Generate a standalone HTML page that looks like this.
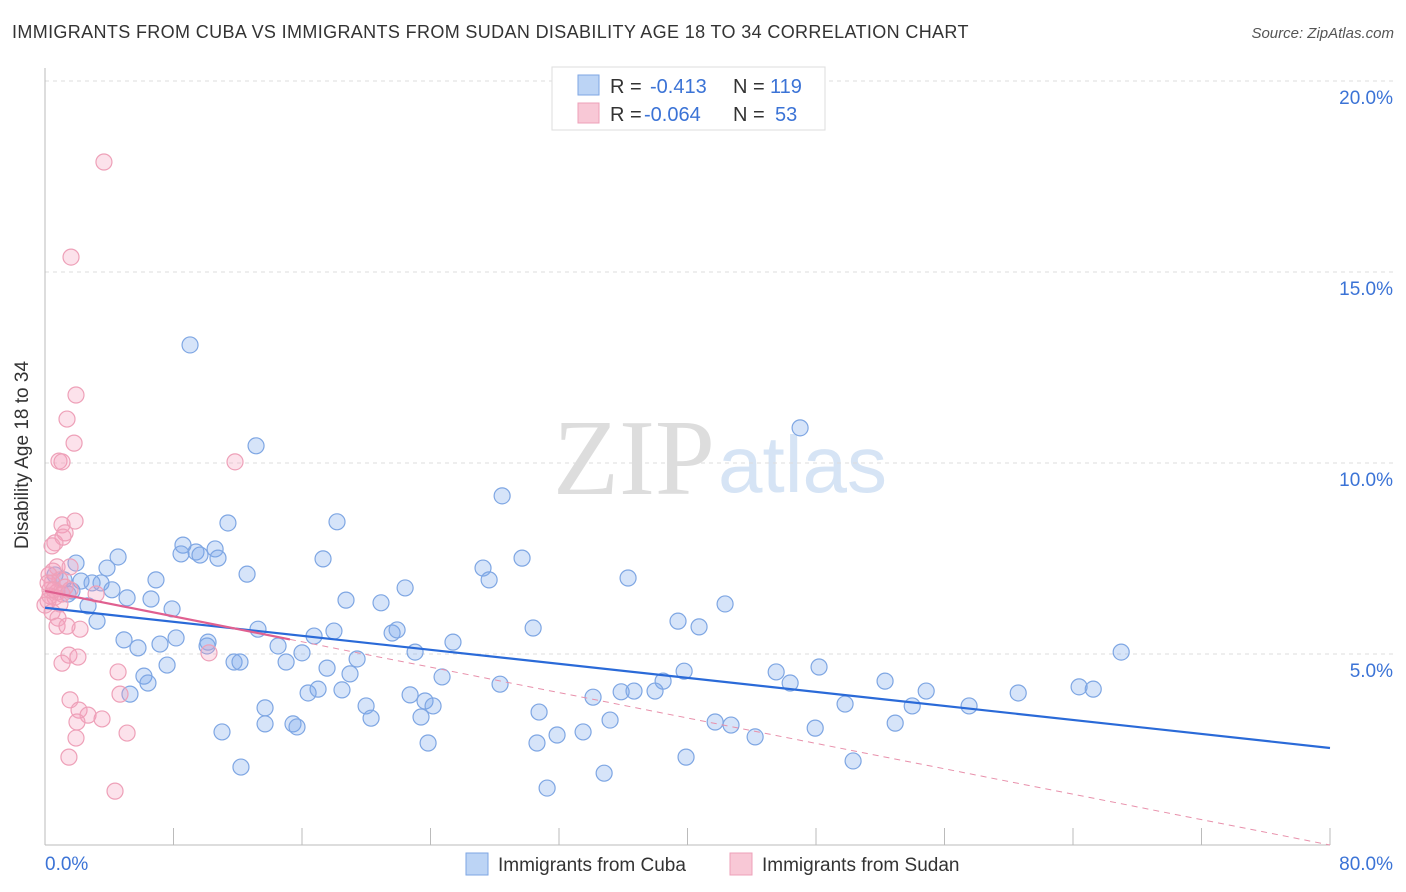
<!DOCTYPE html>
<html><head><meta charset="utf-8"><style>
body{margin:0;width:1406px;height:892px;background:#fff;font-family:"Liberation Sans",sans-serif;overflow:hidden;position:relative}
.abs{position:absolute}
</style></head><body>
<div class="abs" style="left:12px;top:22px;font-size:18px;letter-spacing:0.36px;color:#333">IMMIGRANTS FROM CUBA VS IMMIGRANTS FROM SUDAN DISABILITY AGE 18 TO 34 CORRELATION CHART</div>
<div class="abs" style="right:12px;top:25px;font-size:15px;color:#555;font-style:italic">Source: ZipAtlas.com</div>
<svg class="abs" style="left:0;top:0" width="1406" height="892" id="chart">
<text x="553" y="494" font-family="Liberation Serif" font-size="108" fill="#ddd">ZIP</text>
<text x="718" y="492" font-family="Liberation Sans" font-size="80" fill="#d6e4f5">atlas</text>
<g id="grid"></g><g id="pts"></g><g id="trend"></g>
<text x="28" y="455" transform="rotate(-90 28 455)" text-anchor="middle" font-size="19" fill="#333">Disability Age 18 to 34</text>
<text x="45" y="870" font-size="19" fill="#3b73d6">0.0%</text>
<text x="1393" y="870" text-anchor="end" font-size="19" fill="#3b73d6">80.0%</text>
<rect x="466" y="853" width="22" height="22" fill="#bcd4f5" stroke="#7ea6e3"/>
<text x="498" y="871" font-size="19" fill="#333">Immigrants from Cuba</text>
<rect x="730" y="853" width="22" height="22" fill="#f8c8d6" stroke="#eea0b8"/>
<text x="762" y="871" font-size="19" fill="#333">Immigrants from Sudan</text>
<rect x="552" y="67" width="273" height="63" fill="#fff" stroke="#ddd"/>
<rect x="578" y="75" width="21" height="20" fill="#bcd4f5" stroke="#7ea6e3"/>
<rect x="578" y="103" width="21" height="20" fill="#f8c8d6" stroke="#eea0b8"/>
<g font-size="20" fill="#333"><text x="610" y="93">R =</text><text x="610" y="121">R =</text><text x="733" y="93">N =</text><text x="733" y="121">N =</text></g>
<g font-size="20" fill="#3b73d6"><text x="650" y="93">-0.413</text><text x="644" y="121">-0.064</text><text x="770" y="93">119</text><text x="775" y="121">53</text></g>
</svg>
<script>
const yTicks=[5,10,15,20];
const yTickLabels=["5.0%","10.0%","15.0%","20.0%"];
const cubaX=[9.03,47.01,13.14,28.46,11.39,18.18,8.59,9.40,10.59,4.55,8.47,9.65,10.77,17.31,29.70,1.93,3.86,27.27,12.58,6.91,27.65,36.30,3.49,2.93,2.24,1.18,0.62,4.17,1.68,1.43,5.11,6.60,22.42,18.74,20.92,42.34,2.68,7.91,3.24,39.41,40.72,13.26,17.99,30.39,21.61,21.92,16.75,4.92,8.16,10.15,7.16,5.79,14.51,25.40,10.09,16.00,19.43,23.04,67.00,7.60,11.77,12.14,15.01,17.56,18.99,48.19,6.16,6.41,39.79,38.48,45.52,46.39,5.29,16.38,17.00,18.49,28.33,24.72,22.73,23.66,24.16,34.12,35.87,36.67,37.98,52.30,54.86,64.38,65.26,60.59,19.99,13.70,49.81,53.99,57.53,20.30,23.41,30.76,35.18,41.72,42.71,13.70,15.44,15.69,52.93,11.02,47.95,31.88,33.50,44.21,23.85,30.63,39.91,50.31,12.20,34.81,31.26];
const cubaY=[13.09,10.92,10.45,9.14,8.43,8.46,7.85,7.67,7.75,7.54,7.62,7.59,7.51,7.49,7.51,7.38,7.25,7.25,7.09,6.94,6.94,6.99,6.86,6.86,6.91,6.94,7.07,6.68,6.65,6.57,6.47,6.44,6.73,6.41,6.34,6.31,6.26,6.18,5.86,5.86,5.71,5.65,5.60,5.68,5.55,5.63,5.47,5.37,5.42,5.31,5.26,5.16,5.21,5.31,5.21,5.03,4.87,5.05,5.05,4.71,4.79,4.79,4.79,4.63,4.48,4.66,4.42,4.24,4.55,4.29,4.53,4.24,3.95,3.98,4.08,4.06,4.21,4.40,3.93,3.77,3.64,3.87,4.01,4.03,4.03,4.29,4.03,4.14,4.08,3.98,3.64,3.59,3.69,3.64,3.64,3.32,3.35,3.48,3.27,3.22,3.14,3.17,3.17,3.09,3.19,2.96,3.06,2.88,2.96,2.83,2.67,2.67,2.30,2.20,2.04,1.88,1.49];
const sudanX=[3.67,1.62,1.93,1.37,1.81,0.87,1.06,11.83,1.87,1.06,1.25,1.12,0.62,0.44,0.75,1.56,0.50,0.25,0.93,0.44,1.25,0.31,0.75,3.18,0.62,0.19,0.93,0.44,0.81,2.18,0.75,1.37,10.21,1.49,2.05,1.06,4.55,4.67,1.56,2.12,2.68,3.55,1.99,1.93,5.11,1.49,4.36,0.19,0.31,0.56,1.06,1.56,0.0];
const sudanY=[17.88,15.39,11.78,11.15,10.52,10.05,10.03,10.03,8.48,8.38,8.17,8.06,7.91,7.83,7.28,7.28,7.17,7.07,6.94,6.86,6.75,6.68,6.62,6.57,6.49,6.39,6.31,6.10,5.94,5.65,5.73,5.73,5.03,4.97,4.92,4.76,4.53,3.95,3.80,3.53,3.40,3.30,3.22,2.80,2.93,2.30,1.41,6.86,6.52,6.68,6.57,6.68,6.28];
const cubaTrend=[6.21,2.54];
const sudanTrend=[6.65,0.0];
const sudanSolidEnd=15.25;
const X=v=>45+v*1285/80, Y=v=>845-v*38.2;
const NS="http://www.w3.org/2000/svg";
function mk(t,a,p){const e=document.createElementNS(NS,t);for(const k in a)e.setAttribute(k,a[k]);p.appendChild(e);return e;}
const grid=document.getElementById('grid');
yTicks.forEach((t,i)=>{
 const l=mk('line',{x1:45,x2:1393,y1:Y(t),y2:Y(t),stroke:'#ddd','stroke-dasharray':'4,4'},grid);
 
 
 const tx=mk('text',{x:1393,y:Y(t)+23,'text-anchor':'end','font-size':19,fill:'#3b73d6'},grid);
 tx.textContent=yTickLabels[i];
 
 
});
mk('line',{x1:45,x2:45,y1:68,y2:845,stroke:'#bbb'},grid);
mk('line',{x1:45,x2:1330,y1:845,y2:845,stroke:'#bbb'},grid);
for(let i=0;i<=10;i++){mk('line',{x1:X(i*8),x2:X(i*8),y1:828,y2:845,stroke:'#bbb'},grid);}
const pts=document.getElementById('pts');
cubaX.forEach((x,i)=>{const c=mk('circle',{cx:X(x),cy:Y(cubaY[i]),r:8,fill:'rgba(120,165,235,0.3)',stroke:'#7ea6e3','stroke-width':1.2},pts);
 
 });
sudanX.forEach((x,i)=>{const c=mk('circle',{cx:X(x),cy:Y(sudanY[i]),r:8,fill:'rgba(245,160,190,0.3)',stroke:'#eea0b8','stroke-width':1.2},pts);
 
 });
const tr=document.getElementById('trend');
const sy=x=>sudanTrend[0]+(sudanTrend[1]-sudanTrend[0])*x/80;
const l1=mk('line',{x1:X(0),y1:Y(cubaTrend[0]),x2:X(80),y2:Y(cubaTrend[1]),stroke:'#2a6ad8','stroke-width':2.2},tr);


const l2=mk('line',{x1:X(sudanSolidEnd),y1:Y(sy(sudanSolidEnd)),x2:X(80),y2:Y(sy(80)),stroke:'#e890ab','stroke-width':1,'stroke-dasharray':'6,5'},tr);


const l3=mk('line',{x1:X(0),y1:Y(sy(0)),x2:X(sudanSolidEnd),y2:Y(sy(sudanSolidEnd)),stroke:'#e06090','stroke-width':2.2},tr);


</script>
</body></html>
